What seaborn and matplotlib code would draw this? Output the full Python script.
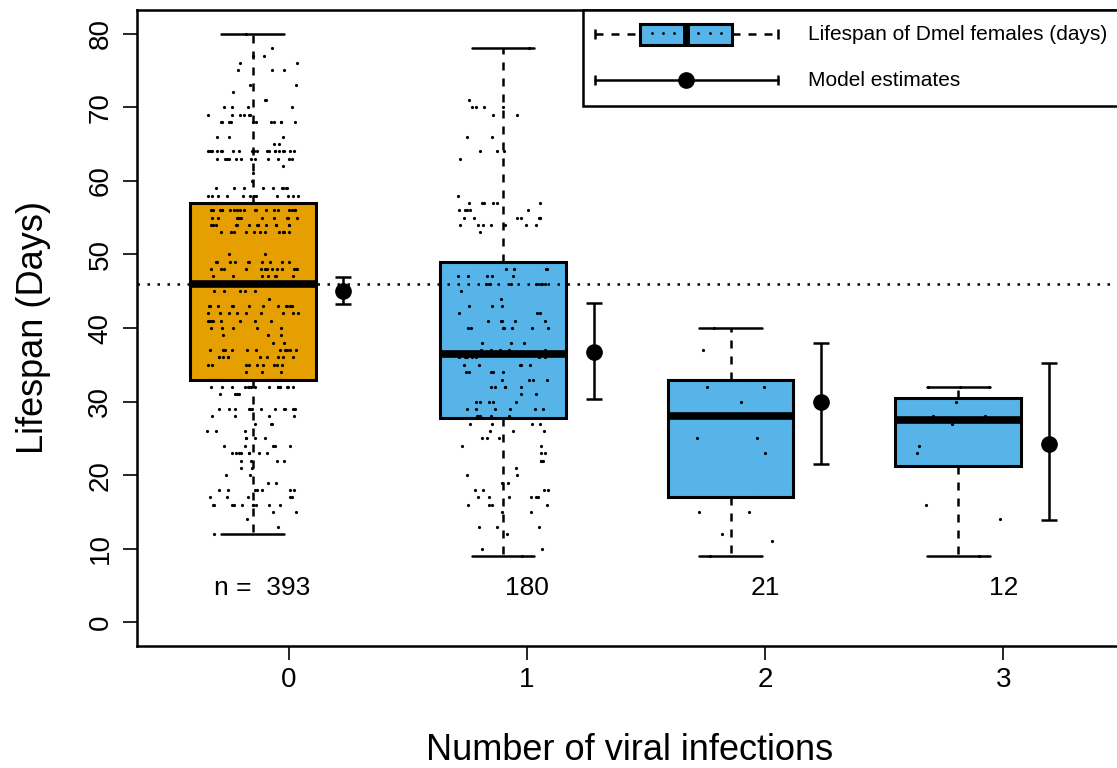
import numpy as np
import pandas as pd
import matplotlib
matplotlib.use("Agg")
import matplotlib.pyplot as plt
from matplotlib.patches import Rectangle
import seaborn as sns

# ---------------- data ----------------
infections = [0, 1, 2, 3]

# group 0 (n = 393): lifespan values (days) and how many flies at each value
g0_days = [12, 13, 14, 15, 16, 17, 18, 19, 20, 21, 22, 23, 24, 25, 26, 27, 28, 29, 31, 32,
           33,
           34, 35, 36, 37, 38, 39, 40, 41, 42, 43, 44, 45,
           46,
           47, 48, 49, 50, 53, 54, 55, 56,
           57,
           58, 59, 60, 61, 62, 63, 64, 65, 66, 68, 69, 70, 71, 72, 73, 75, 76, 77, 78, 80]
g0_counts = [1, 1, 1, 2, 10, 5, 7, 2, 2, 2, 4, 8, 5, 4, 3, 3, 4, 12, 4, 16,
             6,
             3, 9, 10, 11, 2, 3, 5, 8, 9, 12, 1, 5,
             20,
             7, 13, 10, 2, 12, 14, 11, 19,
             8,
             12, 9, 1, 1, 1, 12, 21, 2, 3, 11, 6, 4, 2, 1, 2, 3, 2, 2, 1, 1]

# group 1 (n = 180)
g1_days = [9, 10, 12, 13, 15, 16, 17, 18, 19, 20, 21, 22, 23, 24, 25, 26, 27,
           28, 29, 30, 31, 32, 33, 34, 35, 36,
           37, 38, 40, 41, 42, 43, 44, 45, 46, 47, 48, 49,
           53, 54, 55, 56, 57, 58, 63, 64, 66, 69, 70, 71, 78]
g1_counts = [1, 2, 1, 3, 2, 4, 6, 4, 2, 2, 1, 3, 2, 2, 3, 3, 4,
             5, 6, 5, 2, 5, 4, 5, 5, 8,
             5, 3, 7, 5, 3, 3, 1, 1, 7, 5, 4, 5,
             1, 7, 7, 5, 6, 1, 1, 3, 2, 2, 4, 1, 1]

# group 2 (n = 21) and group 3 (n = 12)
g2_days = [9, 11, 12, 15, 15, 17, 23, 25, 25, 28, 28, 28, 30, 32, 32, 33, 33, 33, 33, 37, 40]
g3_days = [9, 14, 16, 23, 24, 27, 28, 28, 30, 32, 32, 32]

# model estimates with intervals
est_mean = [45.0, 36.8, 29.9, 24.2]
est_low = [43.3, 30.3, 21.5, 13.9]
est_high = [46.9, 43.4, 38.0, 35.2]

box_colors = ["#E69F00", "#56B4E9", "#56B4E9", "#56B4E9"]
y_ticks = [0, 10, 20, 30, 40, 50, 60, 70, 80]
x_label = "Number of viral infections"
y_label = "Lifespan (Days)"
legend_labels = ["Lifespan of Dmel females (days)", "Model estimates"]

# ---------------- layout ----------------
box_pos = [-0.15, 0.90, 1.855, 2.81]
est_offset = 0.38

W, H = 1117, 768
sns.set_style("ticks")
plt.rcParams["font.family"] = ["Liberation Sans", "DejaVu Sans"]
plt.rcParams.update({"text.color": "black", "axes.labelcolor": "black",
                     "xtick.color": "black", "ytick.color": "black",
                     "axes.edgecolor": "black"})

samples = [np.repeat(g0_days, g0_counts), np.repeat(g1_days, g1_counts),
           np.array(g2_days), np.array(g3_days)]
df = pd.concat([pd.DataFrame({"pos": box_pos[i], "grp": str(infections[i]), "days": s})
                for i, s in enumerate(samples)], ignore_index=True)
pal = {str(k): c for k, c in zip(infections, box_colors)}

fig = plt.figure(figsize=(W / 100, H / 100), dpi=100)
ax = fig.add_axes([137 / W, (H - 646) / H, (1123 - 137) / W, (646 - 10) / H])

lw_line = 1.8
sns.boxplot(data=df, x="pos", y="days", hue="grp", palette=pal, native_scale=True,
            width=0.552, saturation=1, linecolor="black", whis=1.5, fliersize=0,
            legend=False, ax=ax,
            boxprops=dict(linewidth=2.2, edgecolor="black"),
            whiskerprops=dict(linestyle=(0, (3.2, 3.2)), linewidth=lw_line),
            capprops=dict(linewidth=lw_line),
            medianprops=dict(linewidth=5.5, color="black", solid_capstyle="butt"))

np.random.seed(7)
sns.stripplot(data=df, x="pos", y="days", native_scale=True, jitter=0.2,
              color="black", size=2.3, linewidth=0, ax=ax, zorder=3)

# reference line at the median lifespan of uninfected flies
ax.axhline(np.median(samples[0]), color="black", lw=lw_line, ls=(0, (1, 3)), zorder=2.5)

# model estimates
est_x = [p + est_offset for p in box_pos]
m = np.array(est_mean)
ax.errorbar(est_x, m, yerr=[m - np.array(est_low), np.array(est_high) - m], fmt="o",
            color="black", ms=11, elinewidth=lw_line, capsize=5.5, capthick=lw_line, zorder=4)

# sample sizes
n_y = 4.7
ax.annotate(f"n =  {len(samples[0])}", xy=(infections[0], n_y), xytext=(15.8, 0),
            textcoords="offset points", ha="right", va="center", fontsize=19)
for k, s in zip(infections[1:], samples[1:]):
    ax.text(k, n_y, f"{len(s)}", ha="center", va="center", fontsize=19)

ax.set_xlim(-0.636, 3.502)
ax.set_ylim(-3.2, 83.2)
ax.set_xticks(infections)
ax.set_xticklabels([str(k) for k in infections])
ax.set_yticks(y_ticks)
ax.set_yticklabels([str(v) for v in y_ticks])
ax.tick_params(axis="both", direction="out", length=10, width=1.2, colors="black",
               labelsize=20)
ax.tick_params(axis="x", pad=5)
ax.tick_params(axis="y", pad=7, labelrotation=90)
plt.setp(ax.get_yticklabels(), va="center")
for sp in ax.spines.values():
    sp.set_visible(True)
    sp.set_color("black")
    sp.set_linewidth(lw_line)

ax.set_xlabel(x_label, fontsize=26, color="black")
ax.set_ylabel(y_label, fontsize=26, color="black")
ax.xaxis.label.set_va("center")
ax.yaxis.label.set_va("center")
ax.xaxis.set_label_coords(0.5, (646 - 750) / 636)
ax.yaxis.set_label_coords((33 - 137) / 986, 0.5)

# ---------------- legend (drawn in its own pixel-based axes) ----------------
lax = fig.add_axes([583 / W, (H - 106) / H, (1123 - 583) / W, 96 / H])
lax.set_xlim(583, 1123)
lax.set_ylim(106, 10)
lax.axis("off")
lax.add_patch(Rectangle((583, 10), 540, 96, facecolor="white", edgecolor="black",
                        lw=lw_line, clip_on=False))
r1, r2 = 34, 80
# box symbol
lax.plot([595, 595], [r1 - 5, r1 + 5], color="black", lw=lw_line, solid_capstyle="butt")
lax.plot([778, 778], [r1 - 5, r1 + 5], color="black", lw=lw_line, solid_capstyle="butt")
lax.plot([595, 640], [r1, r1], color="black", lw=lw_line, ls=(0, (3.2, 3.2)))
lax.plot([732, 778], [r1, r1], color="black", lw=lw_line, ls=(0, (3.2, 3.2)))
lax.add_patch(Rectangle((640, r1 - 10.5), 92, 21, facecolor=box_colors[1], edgecolor="black",
                        lw=2.2))
lax.plot([686, 686], [r1 - 10.5, r1 + 10.5], color="black", lw=5.0, solid_capstyle="butt")
lax.plot([652, 663, 674, 698, 710, 721], [r1 - 1] * 6, "o", color="black", ms=2.0,
         mew=0)
# estimate symbol
lax.plot([595, 778], [r2, r2], color="black", lw=lw_line)
lax.plot([595, 595], [r2 - 5, r2 + 5], color="black", lw=lw_line, solid_capstyle="butt")
lax.plot([778, 778], [r2 - 5, r2 + 5], color="black", lw=lw_line, solid_capstyle="butt")
lax.plot([686], [r2], "o", color="black", ms=11)
lax.text(808, r1, legend_labels[0], ha="left", va="center", fontsize=15)
lax.text(808, r2, legend_labels[1], ha="left", va="center", fontsize=15)

fig.savefig("out.png", dpi=100)
